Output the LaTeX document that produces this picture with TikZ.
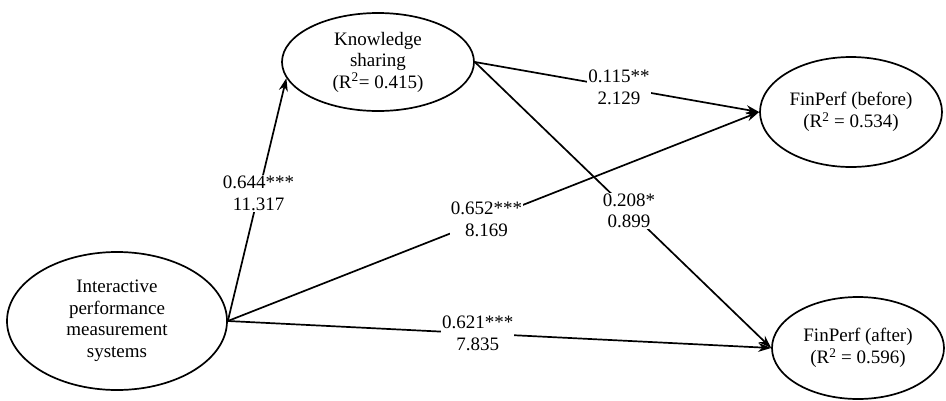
\documentclass[tikz,border=0pt]{standalone}
\usepackage{fontspec}
\setmainfont{Liberation Serif}
\usetikzlibrary{shapes.geometric,arrows.meta}
\tikzset{
  latent/.style={draw, ellipse, line width=1.7pt, inner sep=0pt, align=center,
    font=\fontsize{19}{21.5}\selectfont},
  path/.style={line width=1.7pt, -{Stealth[length=13pt,width=9pt]}},
  coef/.style={fill=white, inner sep=1pt, align=center, font=\fontsize{19}{21.5}\selectfont}
}
\begin{document}
\begin{tikzpicture}[x=1pt,y=-1pt]
\useasboundingbox (0,0) rectangle (946,400);
\node[latent, minimum width=220pt, minimum height=138pt] (ipms) at (117,321)
  {Interactive\\performance\\measurement\\systems};
\node[latent, minimum width=192pt, minimum height=98pt] (ks) at (378,62)
  {Knowledge\\sharing\\(R\textsuperscript{2}= 0.415)};
\node[latent, minimum width=182pt, minimum height=110pt] (fb) at (851,112)
  {FinPerf (before)\\(R\textsuperscript{2} = 0.534)};
\node[latent, minimum width=172pt, minimum height=102pt] (fa) at (858,348)
  {FinPerf (after)\\(R\textsuperscript{2} = 0.596)};

\draw[path] (ipms.east) -- (ks.190) node[coef, pos=0.525] (l1) {0.644***\\11.317};
\draw[path] (ipms.east) -- (fb.west) node[coef, pos=0.487] (l2) {0.652***\\8.169};
\draw[path] (ipms.east) -- (fa.west) node[coef, pos=0.46] (l3) {0.621***\\7.835};
\draw[path] (ks.east) -- (fb.west) node[coef, pos=0.507] (l4) {0.115**\\2.129};
\draw[path] (ks.east) -- (fa.west) node[coef, pos=0.52] (l5) {0.208*\\0.899};
\end{tikzpicture}
\end{document}
